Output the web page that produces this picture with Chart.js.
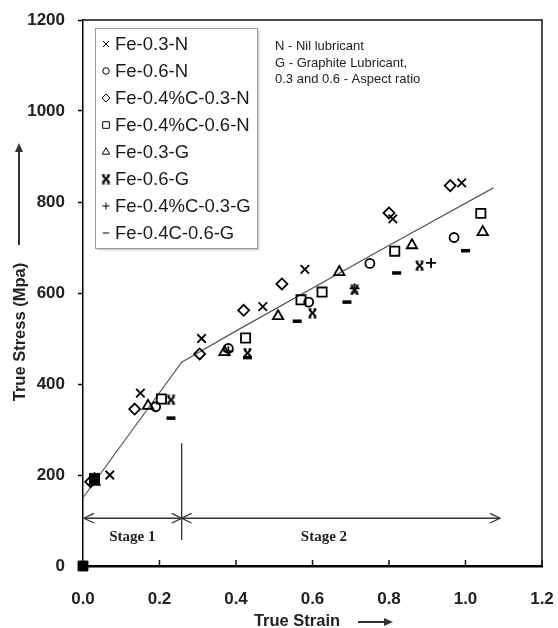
<!DOCTYPE html>
<html>
<head>
<meta charset="utf-8">
<script src="https://cdn.jsdelivr.net/npm/chart.js@4.4.1/dist/chart.umd.min.js"></script>
<style>
  html, body { margin: 0; padding: 0; background: #fff; }
  #wrap { width: 558px; height: 628px; }
</style>
</head>
<body>
<div id="wrap"><canvas id="grafico" width="558" height="628"></canvas></div>
<script>
// legend names
const nomes = ["Fe-0.3-N", "Fe-0.6-N", "Fe-0.4%C-0.3-N", "Fe-0.4%C-0.6-N",
               "Fe-0.3-G", "Fe-0.6-G", "Fe-0.4%C-0.3-G", "Fe-0.4C-0.6-G"];

// values (true strain / true stress in MPa)
const strain03N = [0.03, 0.07, 0.15, 0.31, 0.47, 0.58, 0.81, 0.99];
const stress03N = [195, 200, 380, 500, 570, 652, 763, 842];
const strain06N = [0.03, 0.19, 0.38, 0.59, 0.75, 0.97];
const stress06N = [190, 350, 478, 580, 665, 722];
const strainC03N = [0.02, 0.135, 0.305, 0.42, 0.52, 0.80, 0.96];
const stressC03N = [185, 345, 466, 562, 620, 776, 836];
const strainC06N = [0.03, 0.205, 0.425, 0.57, 0.625, 0.815, 1.04];
const stressC06N = [192, 367, 501, 585, 602, 692, 775];
const strain03G = [0.03, 0.17, 0.37, 0.51, 0.67, 0.86, 1.045];
const stress03G = [185, 352, 470, 549, 646, 705, 734];
const strain06G = [0.03, 0.23, 0.43, 0.60, 0.71, 0.88];
const stress06G = [190, 365, 468, 556, 607, 660];
const strainC03G = [0.03, 0.38, 0.71, 0.91];
const stressC03G = [195, 472, 610, 666];
const strainC06G = [0.03, 0.23, 0.43, 0.56, 0.69, 0.82, 1.0];
const stressC06G = [188, 325, 458, 538, 580, 644, 693];

// two-stage trend line
const fitStrain = [0, 0.258, 0.405, 0.777, 1.073];
const fitStress = [150, 448, 519, 694, 831];

// stage boundary
const stageStrain = 0.258;
const stageEnd = 1.09;

const yTicks = [0, 200, 400, 600, 800, 1000, 1200];
const xTicks = [0, 0.2, 0.4, 0.6, 0.8, 1.0, 1.2];

function pares(xs, ys) { return xs.map((v, i) => ({x: v, y: ys[i]})); }

// "ж"-like marker for Fe-0.6-G
function marcaZh(s) {
    const c = document.createElement('canvas');
    c.width = s; c.height = s;
    const g = c.getContext('2d');
    g.strokeStyle = '#000'; g.lineWidth = 2;
    const a = 1.5, b = s - 1.5;
    g.beginPath();
    g.moveTo(a + 1, a + 1); g.lineTo(b - 1, b - 1);
    g.moveTo(b - 1, a + 1); g.lineTo(a + 1, b - 1);
    g.moveTo(a, a); g.lineTo(s * 0.4, a);
    g.moveTo(s * 0.6, a); g.lineTo(b, a);
    g.moveTo(a, b); g.lineTo(s * 0.4, b);
    g.moveTo(s * 0.6, b); g.lineTo(b, b);
    g.stroke();
    return c;
}

const estilos = ['crossRot', 'circle', 'rectRot', 'rect', 'triangle', marcaZh(11), 'cross', 'line'];
const raios = [6, 4.5, 5.5, 6.5, 6, 5, 5, 4.5];
const larguras = [1.8, 1.8, 1.8, 1.8, 1.8, 1.8, 1.8, 3.5];
const series = [
    pares(strain03N, stress03N), pares(strain06N, stress06N),
    pares(strainC03N, stressC03N), pares(strainC06N, stressC06N),
    pares(strain03G, stress03G), pares(strain06G, stress06G),
    pares(strainC03G, stressC03G), pares(strainC06G, stressC06G)
];

const datasets = series.map((d, i) => ({
    label: nomes[i],
    data: d,
    pointStyle: estilos[i],
    pointRadius: raios[i],
    pointBorderWidth: larguras[i],
    borderColor: '#000',
    backgroundColor: 'rgba(255,255,255,0)',
    showLine: false,
    clip: false
}));

datasets.push({
    label: 'fit',
    data: pares(fitStrain, fitStress),
    showLine: true,
    borderColor: '#555',
    borderWidth: 1.2,
    pointRadius: 0,
    tension: 0,
    clip: false
});

datasets.push({
    label: 'origin',
    data: [{x: 0, y: 0}],
    pointStyle: 'rect',
    pointRadius: 7,
    borderColor: '#000',
    backgroundColor: '#000',
    clip: false
});

function seta(ctx, x1, y1, x2, y2) {
    // open arrowhead at (x2, y2)
    const ang = Math.atan2(y2 - y1, x2 - x1);
    const L = 11, W = 0.45;
    ctx.beginPath();
    ctx.moveTo(x2 - L * Math.cos(ang - W), y2 - L * Math.sin(ang - W));
    ctx.lineTo(x2, y2);
    ctx.lineTo(x2 - L * Math.cos(ang + W), y2 - L * Math.sin(ang + W));
    ctx.stroke();
}

const extras = {
    id: 'extras',
    afterDraw(chart) {
        const {ctx, chartArea: a, scales: {x, y}} = chart;
        ctx.save();

        // frame top + right
        ctx.strokeStyle = '#111';
        ctx.lineWidth = 1.5;
        ctx.beginPath();
        ctx.moveTo(a.left, a.top); ctx.lineTo(a.right, a.top); ctx.lineTo(a.right, a.bottom);
        ctx.stroke();

        // x ticks pointing inward
        ctx.lineWidth = 1.5;
        xTicks.slice(1).forEach(v => {
            const px = x.getPixelForValue(v);
            ctx.beginPath(); ctx.moveTo(px, a.bottom); ctx.lineTo(px, a.bottom - 6); ctx.stroke();
        });

        // stage markers
        ctx.strokeStyle = '#333';
        ctx.lineWidth = 1.3;
        const xs = x.getPixelForValue(stageStrain);
        const x0 = x.getPixelForValue(0);
        const xe = x.getPixelForValue(stageEnd);
        const ya = y.getPixelForValue(105);
        ctx.beginPath();
        ctx.moveTo(xs, y.getPixelForValue(270)); ctx.lineTo(xs, y.getPixelForValue(57));
        ctx.moveTo(x0 + 1, ya); ctx.lineTo(xe, ya);
        ctx.stroke();
        seta(ctx, xs, ya, x0 + 1, ya);
        seta(ctx, x0, ya, xs, ya);
        seta(ctx, xe, ya, xs, ya);
        seta(ctx, xs, ya, xe, ya);

        ctx.fillStyle = '#222';
        ctx.font = 'bold 15px "Liberation Serif", "DejaVu Serif", serif';
        ctx.textAlign = 'center';
        ctx.textBaseline = 'middle';
        const ys = y.getPixelForValue(64);
        ctx.fillText('Stage 1', (x0 + xs) / 2, ys);
        ctx.fillText('Stage 2', x.getPixelForValue(0.63), ys);

        // legend box
        const bx = 95, by = 28, bw = 162, bh = 220;
        ctx.shadowColor = 'rgba(0,0,0,0.25)';
        ctx.shadowOffsetX = 1.5; ctx.shadowOffsetY = 1.5; ctx.shadowBlur = 2;
        ctx.fillStyle = '#fff';
        ctx.fillRect(bx, by, bw, bh);
        ctx.shadowColor = 'rgba(0,0,0,0)';
        ctx.strokeStyle = '#999';
        ctx.lineWidth = 1;
        ctx.strokeRect(bx + 0.5, by + 0.5, bw, bh);
        ctx.font = '18.5px "Liberation Sans", Arial, sans-serif';
        ctx.textAlign = 'left';
        ctx.textBaseline = 'middle';
        nomes.forEach((n, i) => {
            const ly = 44 + i * 27;
            ctx.strokeStyle = '#000';
            ctx.fillStyle = i === 7 ? '#000' : '#fff';
            if (Chart.helpers && Chart.helpers.drawPoint) {
                Chart.helpers.drawPoint(ctx, {
                    pointStyle: estilos[i],
                    radius: raios[i] * 0.72,
                    borderWidth: i === 7 ? 3 : 1.4,
                    rotation: 0
                }, 106, ly);
            }
            ctx.fillStyle = '#1a1a1a';
            ctx.fillText(n, 115, ly + 1);
        });

        // notes
        ctx.font = '13px "Liberation Sans", Arial, sans-serif';
        ctx.fillStyle = '#222';
        ctx.fillText('N - Nil lubricant', 275, 46);
        ctx.fillText('G - Graphite Lubricant,', 275, 63);
        ctx.fillText('0.3 and 0.6 - Aspect ratio', 275, 79);

        // axis titles with arrows
        ctx.font = 'bold 16.5px "Liberation Sans", Arial, sans-serif';
        ctx.textAlign = 'center';
        ctx.fillStyle = '#222';
        ctx.save();
        ctx.translate(20, 332);
        ctx.rotate(-Math.PI / 2);
        ctx.fillText('True Stress (Mpa)', 0, 0);
        ctx.restore();
        ctx.fillText('True Strain', 297, 621);

        ctx.strokeStyle = '#333';
        ctx.fillStyle = '#333';
        ctx.lineWidth = 2;
        ctx.beginPath(); ctx.moveTo(19, 245); ctx.lineTo(19, 150); ctx.stroke();
        ctx.beginPath(); ctx.moveTo(15, 152); ctx.lineTo(19, 143); ctx.lineTo(23, 152); ctx.closePath(); ctx.fill();
        ctx.beginPath(); ctx.moveTo(358, 622); ctx.lineTo(386, 622); ctx.stroke();
        ctx.beginPath(); ctx.moveTo(384, 618); ctx.lineTo(393, 622); ctx.lineTo(384, 626); ctx.closePath(); ctx.fill();

        ctx.restore();
    }
};

const fonteEixo = {family: '"Liberation Sans", Arial, sans-serif', size: 17, weight: 'bold'};

new Chart(document.getElementById('grafico'), {
    type: 'scatter',
    data: {datasets: datasets},
    options: {
        responsive: false,
        animation: false,
        layout: {padding: {top: 20, right: 4, left: 0, bottom: 0}},
        plugins: {legend: {display: false}, tooltip: {enabled: false}},
        scales: {
            x: {
                type: 'linear',
                min: 0, max: 1.2,
                afterFit: s => { s.height = 62; s.paddingRight = 16; s.paddingLeft = 0; },
                afterBuildTicks: s => { s.ticks = xTicks.map(v => ({value: v})); },
                ticks: {
                    font: fonteEixo, color: '#222', padding: 15,
                    callback: v => Number(v).toFixed(1)
                },
                grid: {display: false},
                border: {display: true, color: '#000', width: 2.5}
            },
            y: {
                type: 'linear',
                min: 0, max: 1200,
                afterFit: s => { s.width = 83; s.paddingTop = 0; s.paddingBottom = 0; },
                afterBuildTicks: s => { s.ticks = yTicks.map(v => ({value: v})); },
                ticks: {font: fonteEixo, color: '#222', padding: 13, callback: v => String(v)},
                grid: {drawOnChartArea: false, drawTicks: true, tickLength: 5, color: '#000', tickWidth: 1.5},
                border: {display: true, color: '#000', width: 1.5}
            }
        }
    },
    plugins: [extras]
});
</script>
</body>
</html>
